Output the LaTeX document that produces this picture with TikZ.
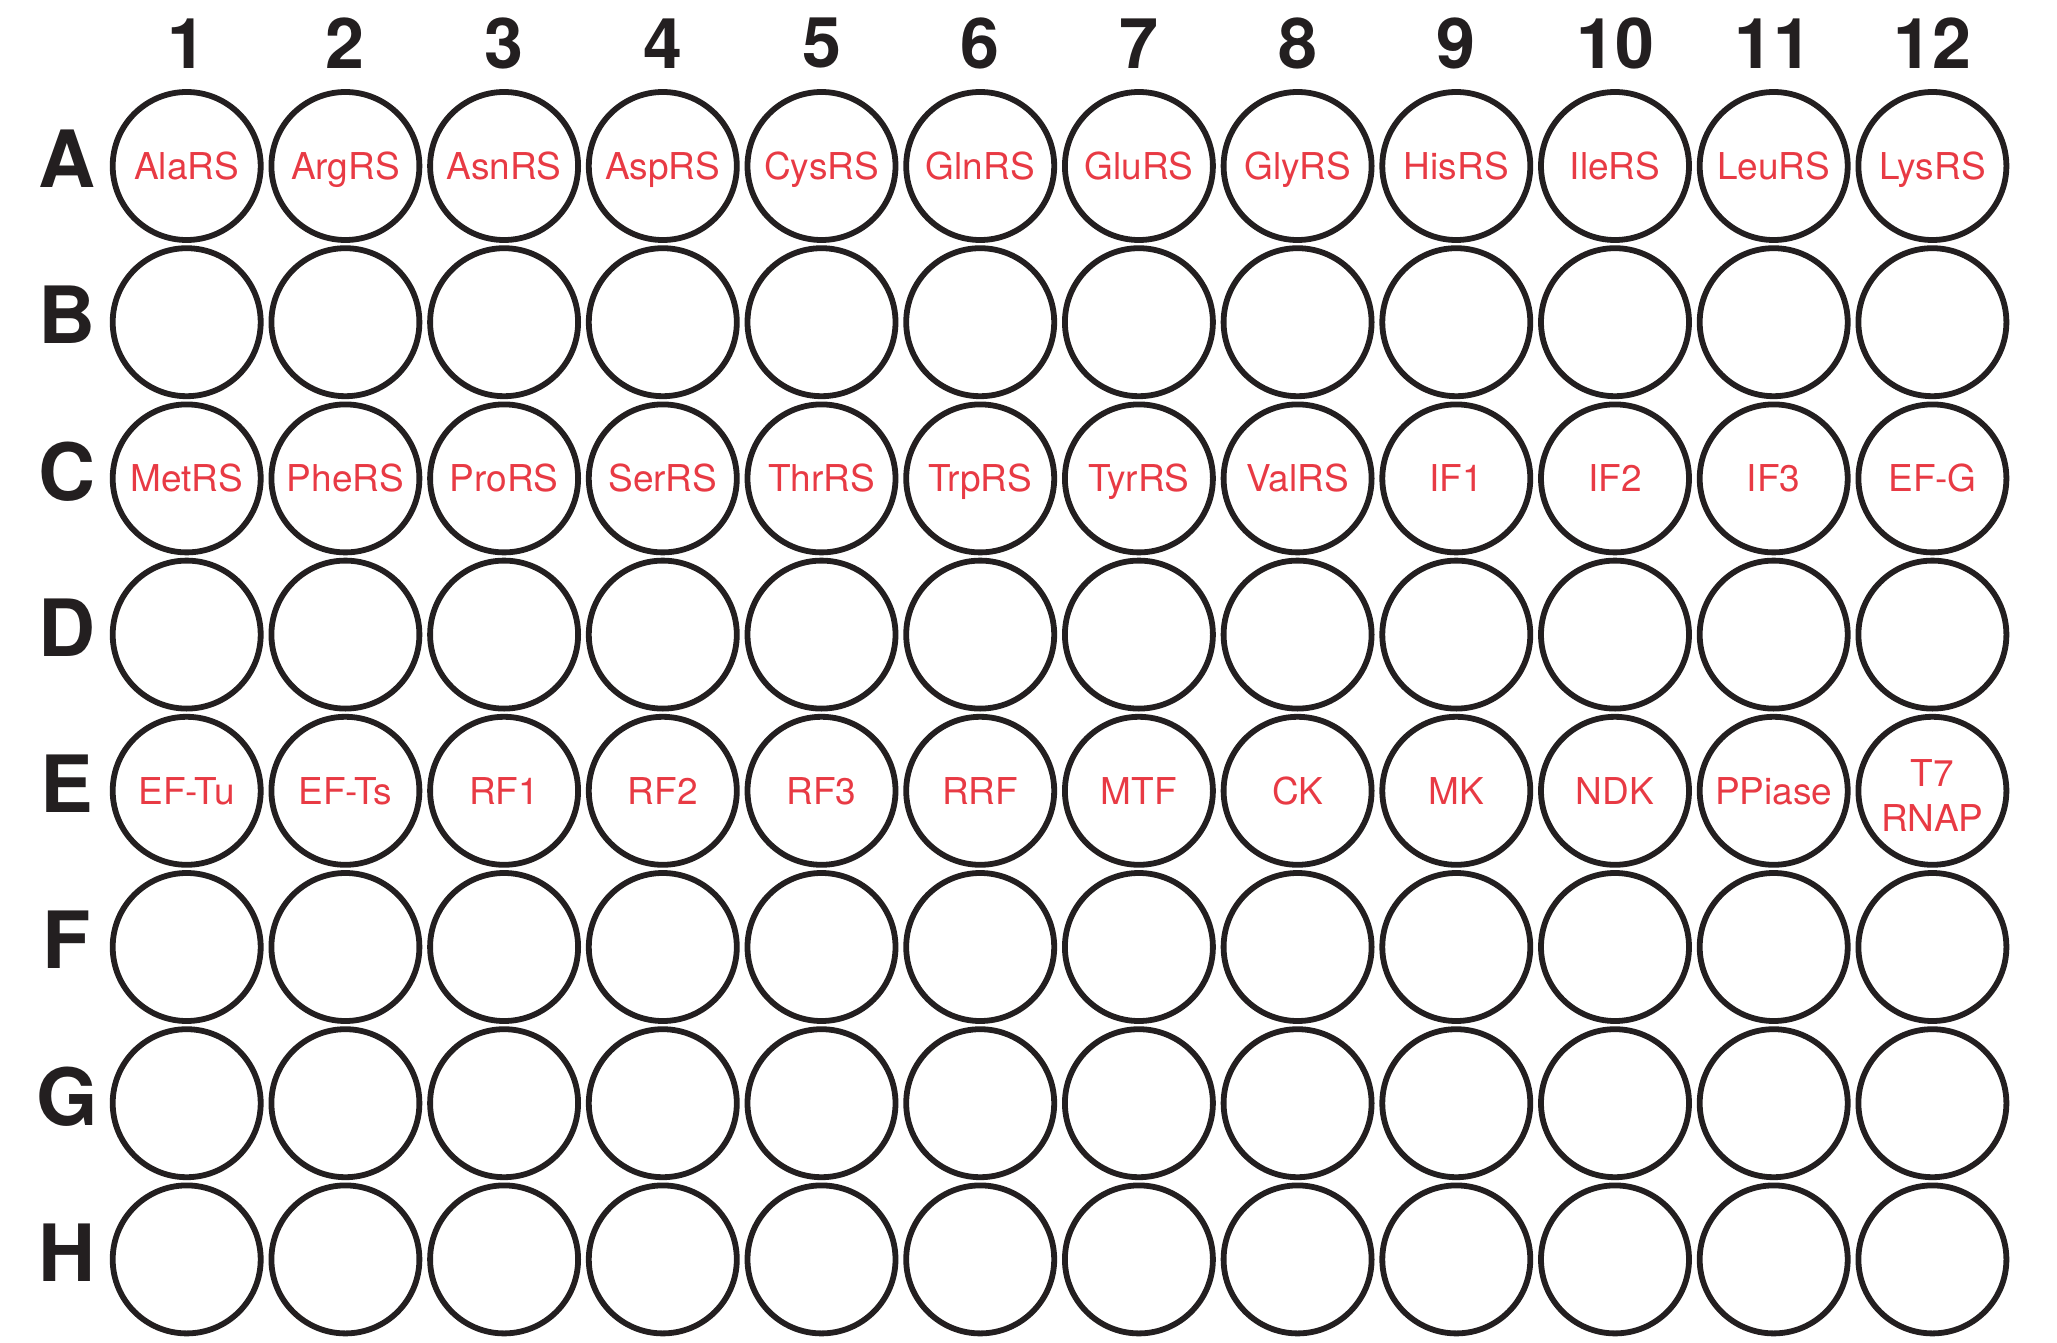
\documentclass[tikz,border=0pt]{standalone}
\usepackage{fontspec}
\setmainfont{TeX Gyre Heros}
\usetikzlibrary{positioning}
\definecolor{platered}{RGB}{232,58,68}
\definecolor{rimblack}{RGB}{35,31,32}

\begin{document}
\begin{tikzpicture}[x=0.5pt,y=-0.5pt]
        % Setup the styles for the wells and the texts
        \tikzset{well style/.style={circle,
                                    draw=rimblack,
                                    line width=2.9pt,
                                    minimum size=74pt,
                                    inner sep=0pt},
                 head style/.style={font=\bfseries\fontsize{35}{35}\selectfont,
                                    text=rimblack, inner sep=0pt, on grid},
                 row style/.style={font=\bfseries\fontsize{39.5}{39.5}\selectfont,
                                    text=rimblack, inner sep=0pt, on grid},
                 name style/.style={font=\fontsize{18.5}{22.5}\selectfont,
                                    text=platered, inner sep=0pt,
                                    text height=13.3pt, text depth=0pt}}

        \useasboundingbox (0,0) rectangle (2057,1343);

        % Draw the wells
        \foreach \r [count=\i] in {A,B,C,D,E,F,G,H}
            \foreach \c in {1,...,12}
                \node[well style] at ({186.7+(\c-1)*158.7}, {166+(\i-1)*156.2}) (\r\c) {};

        % Column numbers and row letters
        \foreach \c in {1,...,12}
            \node[head style, above=61.25pt of A\c] (col\c) {\c};
        \foreach \r in {A,B,C,D,E,F,G,H}
            \node[row style, above left=3.5pt and 59.85pt of \r1] (row\r) {\r};

        % Fill in the wells
        \foreach \name [count=\c] in {AlaRS,ArgRS,AsnRS,AspRS,CysRS,GlnRS,GluRS,GlyRS,HisRS,IleRS,LeuRS,LysRS}
            \node[name style] at (A\c) (tA\c) {\name};
        \foreach \name [count=\c] in {MetRS,PheRS,ProRS,SerRS,ThrRS,TrpRS,TyrRS,ValRS,IF1,IF2,IF3,EF-G}
            \node[name style] at (C\c) (tC\c) {\name};
        \foreach \name [count=\c] in {EF-Tu,EF-Ts,RF1,RF2,RF3,RRF,MTF,CK,MK,NDK,PPiase}
            \node[name style] at (E\c) (tE\c) {\name};
        \node[name style, text height=, text depth=, align=center, yshift=-2.3pt] at (E12) (tE12) {T7\\RNAP};
\end{tikzpicture}
\end{document}
